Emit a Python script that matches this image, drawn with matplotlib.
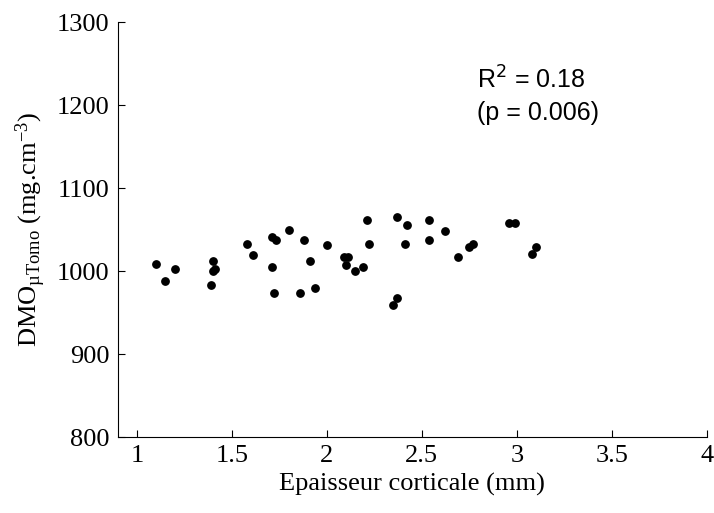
import matplotlib
matplotlib.use("Agg")
import matplotlib.pyplot as plt

plt.rcParams['font.family'] = ['Liberation Serif', 'DejaVu Serif']
plt.rcParams['mathtext.fontset'] = 'custom'
plt.rcParams['mathtext.rm'] = 'Liberation Serif'
plt.rcParams['mathtext.it'] = 'Liberation Serif:italic'

# epaisseur corticale (mm) et DMO (mg.cm-3)
epaisseur = [1.10, 1.20, 1.15, 1.40, 1.41, 1.40, 1.39, 1.58, 1.61, 1.71, 1.73,
             1.80, 1.88, 2.00, 1.71, 1.91, 1.72, 1.86, 1.94,
             2.09, 2.11, 2.10, 2.15, 2.19, 2.21, 2.22, 2.37, 2.42, 2.41,
             2.54, 2.54, 2.62, 2.69, 2.75, 2.77, 2.96, 2.99, 2.37, 2.35,
             3.10, 3.08]
dmo = [1009, 1002, 988, 1012, 1002, 1000, 983, 1033, 1019, 1041, 1038,
       1050, 1038, 1031, 1005, 1012, 973, 973, 980,
       1017, 1017, 1007, 1000, 1005, 1062, 1033, 1065, 1055, 1033,
       1062, 1038, 1048, 1017, 1029, 1033, 1058, 1058, 968, 959,
       1029, 1021]

xticks = [1, 1.5, 2, 2.5, 3, 3.5, 4]
yticks = [800, 900, 1000, 1100, 1200, 1300]

fig = plt.figure(figsize=(7.14, 5.13), dpi=100)
ax = fig.add_axes([0.165, 0.148, 0.825, 0.809])

ax.scatter(epaisseur, dmo, s=28, color='black', zorder=3)

ax.set_xlim(0.9, 4)
ax.set_ylim(800, 1300)
ax.set_xticks(xticks)
ax.set_xticklabels(['1', '1.5', '2', '2.5', '3', '3.5', '4'])
ax.set_yticks(yticks)
ax.tick_params(direction='in', length=5, labelsize=19, pad=6)
ax.spines['top'].set_visible(False)
ax.spines['right'].set_visible(False)

ax.set_xlabel('Epaisseur corticale (mm)', fontsize=19, labelpad=4)
ax.set_ylabel(r'DMO$_{\mathrm{µTomo}}$ (mg.cm$^{-3}$)', fontsize=19, labelpad=6)

ax.text(0.61, 0.84, r'R$^2$ = 0.18', transform=ax.transAxes, fontsize=18,
        family='Liberation Sans', math_fontfamily='dejavusans')
ax.text(0.61, 0.765, '(p = 0.006)', transform=ax.transAxes, fontsize=18,
        family='Liberation Sans')

fig.savefig('out.png', dpi=100)
